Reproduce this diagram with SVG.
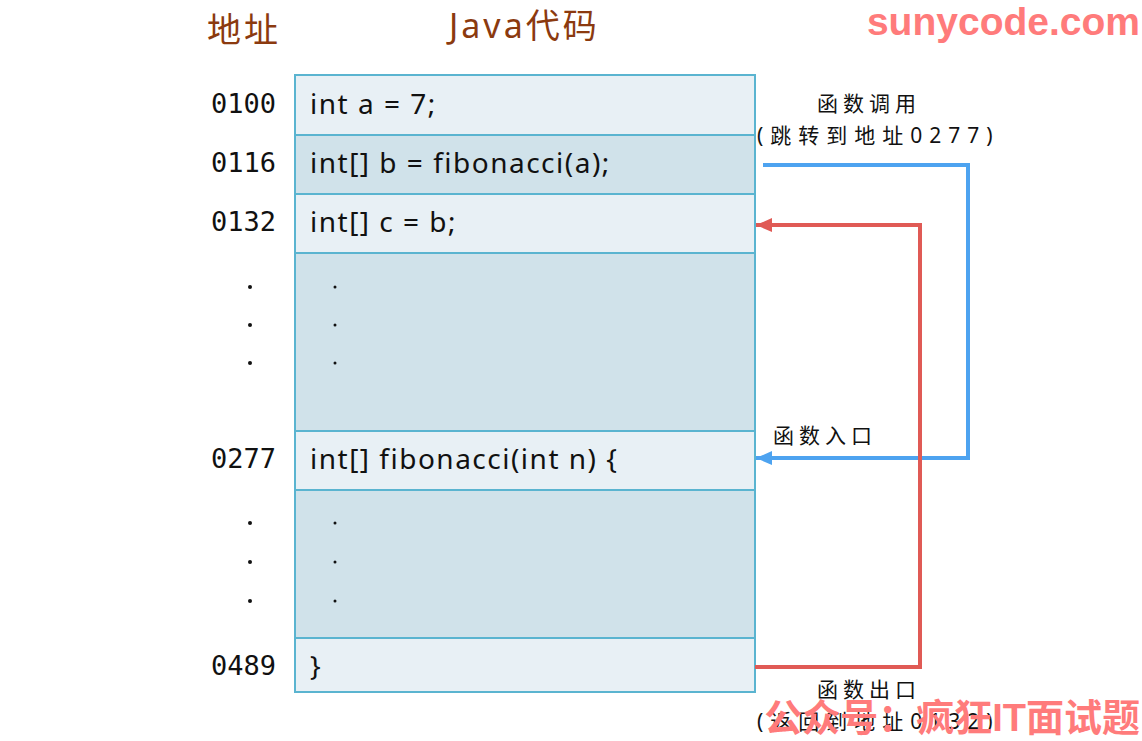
<svg xmlns="http://www.w3.org/2000/svg" width="1142" height="741" viewBox="0 0 1142 741">
<defs>
<style>
.l{fill:#e8f0f5;stroke:#5ab4d0;stroke-width:2}
.d{fill:#d0e2ea;stroke:#5ab4d0;stroke-width:2}
.addr{font-family:"DejaVu Sans Mono",monospace;font-size:27px;fill:#111;text-anchor:end}
.code{font-family:"Noto Sans","DejaVu Sans",sans-serif;font-size:28px;fill:#111;letter-spacing:1.5px}
.hd{font-family:"Noto Sans","Noto Sans CJK SC",sans-serif;font-size:34px;fill:#8b3a0f;letter-spacing:3px}
.lb{font-family:"Noto Sans","Noto Sans CJK SC",sans-serif;font-size:21px;fill:#111;letter-spacing:5px}
.lp{letter-spacing:7px}
.wm{font-family:"Liberation Sans","Noto Sans CJK SC",sans-serif;font-weight:bold;fill:#ff7b7b}
</style>
<marker id="ab" markerWidth="18" markerHeight="16" refX="16" refY="8" orient="auto" markerUnits="userSpaceOnUse"><path d="M0,1 L16,8 L0,15 Z" fill="#4da3f0"/></marker>
<marker id="ar" markerWidth="18" markerHeight="16" refX="16" refY="8" orient="auto" markerUnits="userSpaceOnUse"><path d="M0,1 L16,8 L0,15 Z" fill="#e05a55"/></marker>
</defs>
<rect width="1142" height="741" fill="#fff"/>
<text class="hd" x="207" y="42">地址</text>
<text class="hd" x="449" y="38">Java代码</text>
<g id="row1"><rect class="l" x="295" y="75" width="460" height="60"/><text class="addr" x="276" y="113">0100</text><text class="code" x="310" y="114">int a = 7;</text></g>
<g id="row2"><rect class="d" x="295" y="135" width="460" height="59"/><text class="addr" x="276" y="172">0116</text><text class="code" x="310" y="173">int[] b = fibonacci(a);</text></g>
<g id="row3"><rect class="l" x="295" y="194" width="460" height="59"/><text class="addr" x="276" y="231">0132</text><text class="code" x="310" y="232">int[] c = b;</text></g>
<g id="row4"><rect class="d" x="295" y="253" width="460" height="178"/>
<circle cx="250" cy="287" r="2" fill="#111"/><circle cx="250" cy="325" r="2" fill="#111"/><circle cx="250" cy="363" r="2" fill="#111"/>
<circle cx="335" cy="287" r="1.5" fill="#111"/><circle cx="335" cy="325" r="1.5" fill="#111"/><circle cx="335" cy="363" r="1.5" fill="#111"/></g>
<g id="row5"><rect class="l" x="295" y="431" width="460" height="59"/><text class="addr" x="276" y="468">0277</text><text class="code" x="310" y="469">int[] fibonacci(int n) {</text></g>
<g id="row6"><rect class="d" x="295" y="490" width="460" height="148"/>
<circle cx="250" cy="523" r="2" fill="#111"/><circle cx="250" cy="562" r="2" fill="#111"/><circle cx="250" cy="601" r="2" fill="#111"/>
<circle cx="335" cy="523" r="1.5" fill="#111"/><circle cx="335" cy="562" r="1.5" fill="#111"/><circle cx="335" cy="601" r="1.5" fill="#111"/></g>
<g id="row7"><rect class="l" x="295" y="638" width="460" height="54"/><text class="addr" x="276" y="675">0489</text><text class="code" x="310" y="676">}</text></g>
<g id="connectors" fill="none" stroke-width="4">
<path d="M763,165 H968 V458 H756" stroke="#4da3f0" marker-end="url(#ab)"/>
<path d="M755,667 H920 V225 H756" stroke="#e05a55" marker-end="url(#ar)"/>
</g>
<g id="labels">
<text class="lb" x="817" y="111">函数调用</text>
<text class="lb lp" x="757" y="143">(跳转到地址0277)</text>
<text class="lb" x="773" y="443">函数入口</text>
<text class="lb" x="817" y="697">函数出口</text>
<text class="lb lp" x="757" y="729">(返回到地址0132)</text>
</g>
<text class="wm" x="1140" y="35" font-size="39" text-anchor="end">sunycode.com</text>
<text class="wm" x="1140" y="731" font-size="38" text-anchor="end">公众号：疯狂IT面试题</text>
</svg>
